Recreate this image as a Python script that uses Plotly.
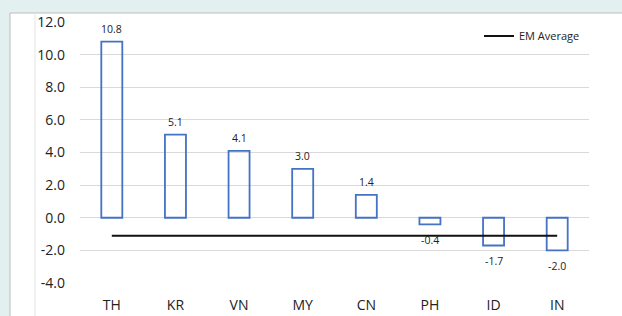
import plotly.graph_objects as go

categories = ["TH", "KR", "VN", "MY", "CN", "PH", "ID", "IN"]
values = [10.8, 5.1, 4.1, 3.0, 1.4, -0.4, -1.7, -2.0]
em_average = [-1.1] * len(categories)
y_ticks = [-4, -2, 0, 2, 4, 6, 8, 10, 12]

FONT = "Open Sans, Noto Sans, sans-serif"

fig = go.Figure()
fig.add_trace(go.Bar(
    x=categories, y=values,
    marker=dict(color="rgba(255,255,255,0)", line=dict(color="#4472C4", width=1.8)),
    width=0.33,
    showlegend=False,
))
fig.add_trace(go.Scatter(
    x=categories, y=em_average, mode="lines",
    line=dict(color="#111", width=2),
    name="EM Average",
))

for c, v in zip(categories, values):
    fig.add_annotation(x=c, y=v, text=f"{v:.1f}", showarrow=False,
                       yanchor="middle", yshift=13 if v >= 0 else -16,
                       font=dict(size=10.5, color="#222", family=FONT))

# paper coordinates for the white panel
L, R, T, B = 80, 589, 22, 283
W, H = R - L, B - T
def px(x):
    return (x - L) / W
def py(y):
    return (B - y) / H

fig.update_layout(
    width=622, height=316,
    margin=dict(l=L, r=622 - R, t=T, b=316 - B),
    paper_bgcolor="#E2F1F0",
    plot_bgcolor="white",
    font=dict(family=FONT, color="#222"),
    showlegend=True,
    legend=dict(x=px(479), y=py(36), xanchor="left", yanchor="middle",
                bgcolor="rgba(0,0,0,0)", font=dict(size=11, color="#222", family=FONT),
                itemwidth=30),
    shapes=[
        dict(type="rect", xref="paper", yref="paper", x0=px(10), x1=px(660), y0=py(13), y1=py(360),
             fillcolor="white", line=dict(width=0), layer="below"),
        dict(type="line", xref="paper", yref="paper", x0=px(10), x1=px(10), y0=py(13), y1=py(360),
             line=dict(color="#BDBDBD", width=1), layer="below"),
        dict(type="line", xref="paper", yref="paper", x0=px(10), x1=px(660), y0=py(13), y1=py(13),
             line=dict(color="#BDBDBD", width=1), layer="below"),
        dict(type="line", xref="paper", yref="paper", x0=px(35), x1=px(35), y0=py(13), y1=py(360),
             line=dict(color="#E3E3E3", width=1), layer="below"),
    ],
)
fig.update_yaxes(range=[-4, 12], tickvals=y_ticks, ticktext=[f"{v:.1f}" for v in y_ticks],
                 showgrid=True, gridcolor="#D9D9D9", gridwidth=1, zeroline=False,
                 showline=False, ticks="", tickfont=dict(size=14, color="#222", family=FONT),
                 ticklabelstandoff=14, automargin=False)
fig.update_xaxes(showgrid=False, showline=False, ticks="",
                 tickfont=dict(size=14, color="#222", family=FONT),
                 ticklabelstandoff=12, automargin=False)

fig.write_html("out.html", config={"displayModeBar": False},
               post_script="document.body.style.margin='0';document.body.style.overflow='hidden';")
